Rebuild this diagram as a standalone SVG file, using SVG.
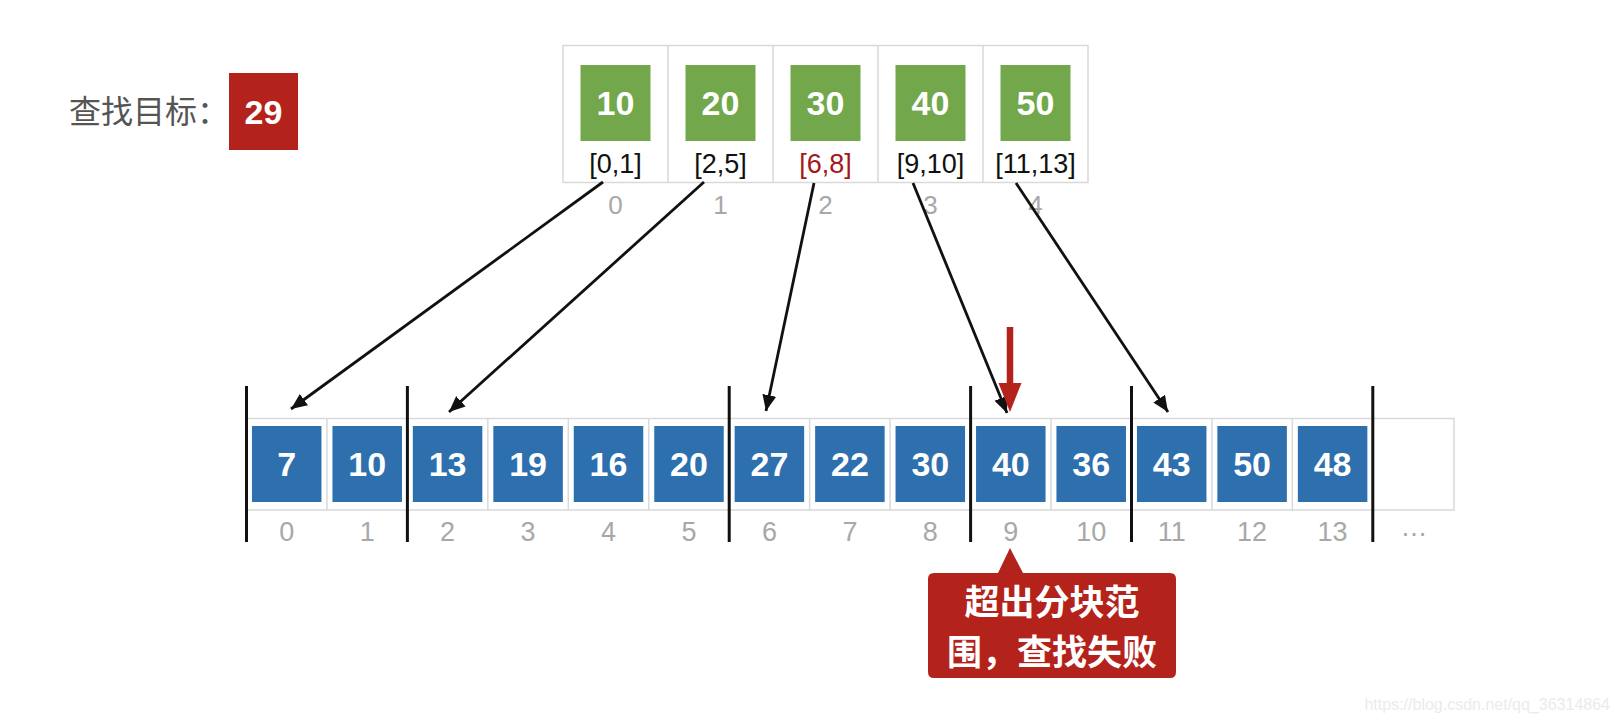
<svg xmlns="http://www.w3.org/2000/svg" width="1620" height="722" viewBox="0 0 1620 722">
<defs>
<style>
.lbl{font-family:"Liberation Sans","Noto Sans CJK SC",sans-serif;}
.num{font-family:"Liberation Sans",Arial,sans-serif;font-weight:bold;font-size:34px;fill:#fff;text-anchor:middle;}
.rng{font-family:"Liberation Sans",Arial,sans-serif;font-size:27px;fill:#111;text-anchor:middle;}
.idxT{font-family:"Liberation Sans",Arial,sans-serif;font-size:26px;fill:#a8a8a8;text-anchor:middle;}
.idxB{font-family:"Liberation Sans",Arial,sans-serif;font-size:27px;fill:#a8a8a8;text-anchor:middle;}
.cell{fill:#fff;stroke:#d9d9d9;stroke-width:1.5;}
.green{fill:#72a84b;}
.blue{fill:#2e6fae;}
.blk{stroke:#111;stroke-width:3;}
.arr{stroke:#111;stroke-width:2.8;fill:none;marker-end:url(#ah);}
.cjk{font-family:"Noto Sans CJK SC","Liberation Sans",sans-serif;}
</style>
<marker id="ah" markerUnits="userSpaceOnUse" markerWidth="18" markerHeight="15" refX="16" refY="7" orient="auto">
<path d="M0,0 L16,7 L0,14 Z" fill="#111"/>
</marker>
</defs>
<rect width="1620" height="722" fill="#fff"/>

<g id="target">
<text class="cjk" x="69" y="123" font-size="32" fill="#555">查找目标：</text>
<rect x="229" y="73" width="69" height="77" fill="#b3231b"/>
<text class="num" x="263.5" y="123.5">29</text>
</g>

<g id="index-table">
<rect class="cell" x="563" y="45.5" width="525" height="137"/>
<line x1="668" y1="45.5" x2="668" y2="182.5" stroke="#d9d9d9" stroke-width="1.5"/>
<line x1="773" y1="45.5" x2="773" y2="182.5" stroke="#d9d9d9" stroke-width="1.5"/>
<line x1="878" y1="45.5" x2="878" y2="182.5" stroke="#d9d9d9" stroke-width="1.5"/>
<line x1="983" y1="45.5" x2="983" y2="182.5" stroke="#d9d9d9" stroke-width="1.5"/>
</g>
<g id="idx0">
<rect class="green" x="580.5" y="65" width="70" height="76"/>
<text class="num" x="615.5" y="115">10</text>
<text class="rng" x="615.5" y="173">[0,1]</text>
<text class="idxT" x="615.5" y="214">0</text>
</g>
<g id="idx1">
<rect class="green" x="685.5" y="65" width="70" height="76"/>
<text class="num" x="720.5" y="115">20</text>
<text class="rng" x="720.5" y="173">[2,5]</text>
<text class="idxT" x="720.5" y="214">1</text>
</g>
<g id="idx2">
<rect class="green" x="790.5" y="65" width="70" height="76"/>
<text class="num" x="825.5" y="115">30</text>
<text class="rng" x="825.5" y="173" style="fill:#a31818">[6,8]</text>
<text class="idxT" x="825.5" y="214">2</text>
</g>
<g id="idx3">
<rect class="green" x="895.5" y="65" width="70" height="76"/>
<text class="num" x="930.5" y="115">40</text>
<text class="rng" x="930.5" y="173">[9,10]</text>
<text class="idxT" x="930.5" y="214">3</text>
</g>
<g id="idx4">
<rect class="green" x="1000.5" y="65" width="70" height="76"/>
<text class="num" x="1035.5" y="115">50</text>
<text class="rng" x="1035.5" y="173">[11,13]</text>
<text class="idxT" x="1035.5" y="214">4</text>
</g>

<g id="data-array">
<rect class="cell" x="246.5" y="418.5" width="1207.5" height="91.5"/>
<g stroke="#d9d9d9" stroke-width="1.5">
<line x1="326.95" y1="418.5" x2="326.95" y2="510"/>
<line x1="487.85" y1="418.5" x2="487.85" y2="510"/>
<line x1="568.3" y1="418.5" x2="568.3" y2="510"/>
<line x1="648.75" y1="418.5" x2="648.75" y2="510"/>
<line x1="809.65" y1="418.5" x2="809.65" y2="510"/>
<line x1="890.1" y1="418.5" x2="890.1" y2="510"/>
<line x1="1051" y1="418.5" x2="1051" y2="510"/>
<line x1="1211.9" y1="418.5" x2="1211.9" y2="510"/>
<line x1="1292.35" y1="418.5" x2="1292.35" y2="510"/>
</g>
<text class="idxB" x="1414" y="536">…</text>
</g>
<g id="d0"><rect class="blue" x="251.95" y="426" width="69.5" height="76"/><text class="num" x="286.7" y="476">7</text><text class="idxB" x="286.7" y="541">0</text></g>
<g id="d1"><rect class="blue" x="332.45" y="426" width="69.5" height="76"/><text class="num" x="367.2" y="476">10</text><text class="idxB" x="367.2" y="541">1</text></g>
<g id="d2"><rect class="blue" x="412.85" y="426" width="69.5" height="76"/><text class="num" x="447.6" y="476">13</text><text class="idxB" x="447.6" y="541">2</text></g>
<g id="d3"><rect class="blue" x="493.35" y="426" width="69.5" height="76"/><text class="num" x="528.1" y="476">19</text><text class="idxB" x="528.1" y="541">3</text></g>
<g id="d4"><rect class="blue" x="573.75" y="426" width="69.5" height="76"/><text class="num" x="608.5" y="476">16</text><text class="idxB" x="608.5" y="541">4</text></g>
<g id="d5"><rect class="blue" x="654.25" y="426" width="69.5" height="76"/><text class="num" x="689" y="476">20</text><text class="idxB" x="689" y="541">5</text></g>
<g id="d6"><rect class="blue" x="734.65" y="426" width="69.5" height="76"/><text class="num" x="769.4" y="476">27</text><text class="idxB" x="769.4" y="541">6</text></g>
<g id="d7"><rect class="blue" x="815.15" y="426" width="69.5" height="76"/><text class="num" x="849.9" y="476">22</text><text class="idxB" x="849.9" y="541">7</text></g>
<g id="d8"><rect class="blue" x="895.55" y="426" width="69.5" height="76"/><text class="num" x="930.3" y="476">30</text><text class="idxB" x="930.3" y="541">8</text></g>
<g id="d9"><rect class="blue" x="976.05" y="426" width="69.5" height="76"/><text class="num" x="1010.8" y="476">40</text><text class="idxB" x="1010.8" y="541">9</text></g>
<g id="d10"><rect class="blue" x="1056.45" y="426" width="69.5" height="76"/><text class="num" x="1091.2" y="476">36</text><text class="idxB" x="1091.2" y="541">10</text></g>
<g id="d11"><rect class="blue" x="1136.95" y="426" width="69.5" height="76"/><text class="num" x="1171.7" y="476">43</text><text class="idxB" x="1171.7" y="541">11</text></g>
<g id="d12"><rect class="blue" x="1217.35" y="426" width="69.5" height="76"/><text class="num" x="1252.1" y="476">50</text><text class="idxB" x="1252.1" y="541">12</text></g>
<g id="d13"><rect class="blue" x="1297.85" y="426" width="69.5" height="76"/><text class="num" x="1332.6" y="476">48</text><text class="idxB" x="1332.6" y="541">13</text></g>

<g id="block-dividers">
<line class="blk" x1="246.5" y1="386" x2="246.5" y2="542"/>
<line class="blk" x1="407.4" y1="386" x2="407.4" y2="542"/>
<line class="blk" x1="729.2" y1="386" x2="729.2" y2="542"/>
<line class="blk" x1="970.6" y1="386" x2="970.6" y2="542"/>
<line class="blk" x1="1131.5" y1="386" x2="1131.5" y2="542"/>
<line class="blk" x1="1372.8" y1="386" x2="1372.8" y2="542"/>
</g>

<g id="connectors">
<line class="arr" x1="603" y1="182" x2="291" y2="409"/>
<line class="arr" x1="704" y1="182" x2="449" y2="412"/>
<line class="arr" x1="814" y1="183" x2="766" y2="411"/>
<line class="arr" x1="913" y1="183" x2="1007" y2="413"/>
<line class="arr" x1="1016" y1="183" x2="1168" y2="412"/>
<line x1="1010" y1="327" x2="1010" y2="386" stroke="#b3231b" stroke-width="6.5"/>
<polygon points="998.5,383 1021.5,383 1010,412" fill="#b3231b"/>
</g>

<g id="callout">
<path d="M934,573 L998,573 L1010,548 L1023,573 L1170,573 Q1176,573 1176,579 L1176,672 Q1176,678 1170,678 L934,678 Q928,678 928,672 L928,579 Q928,573 934,573 Z" fill="#b3231b"/>
<text class="cjk" x="1052" y="615" font-size="35" font-weight="bold" fill="#fff" text-anchor="middle">超出分块范</text>
<text class="cjk" x="1052" y="665" font-size="35" font-weight="bold" fill="#fff" text-anchor="middle">围，查找失败</text>
</g>

<text class="lbl" x="1610" y="710" font-size="16" fill="#ebebeb" text-anchor="end">https://blog.csdn.net/qq_36314864</text>
</svg>
